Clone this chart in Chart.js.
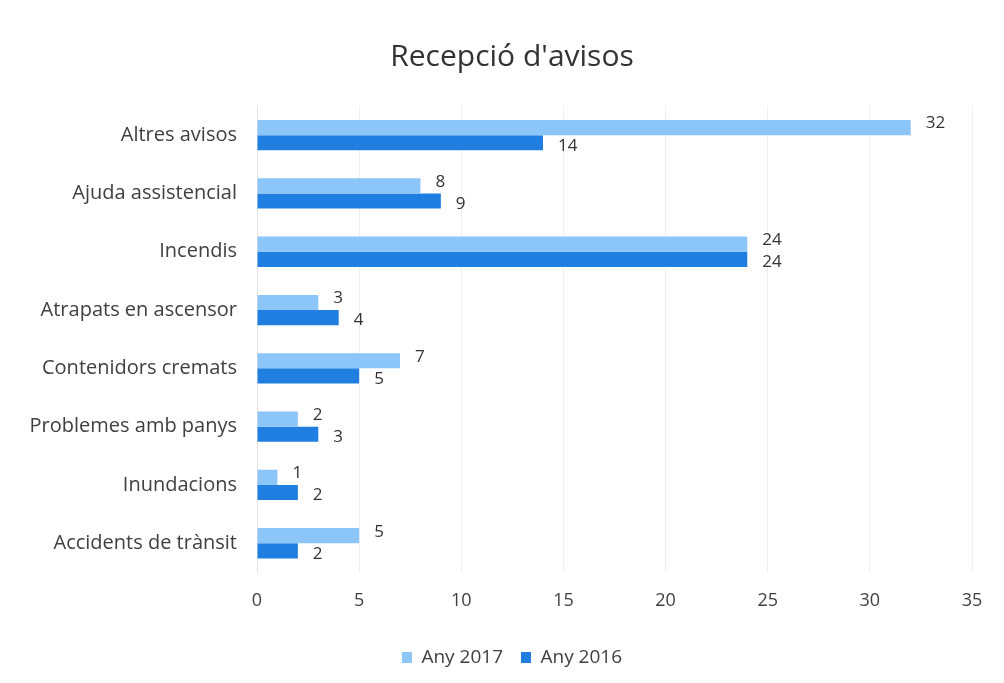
<!DOCTYPE html>
<html lang="ca">
<head>
    <meta charset="UTF-8">
    <title>Recepció d'avisos</title>
    <script src="https://cdn.jsdelivr.net/npm/chart.js"></script>
    <style>
        html, body { margin: 0; padding: 0; background: #fff; }
        #wrap { width: 1004px; height: 683px; }
    </style>
</head>
<body>
    <div id="wrap"><canvas id="avisosChart" width="1004" height="683"></canvas></div>

    <script>
        const categories = ['Altres avisos', 'Ajuda assistencial', 'Incendis', 'Atrapats en ascensor',
            'Contenidors cremats', 'Problemes amb panys', 'Inundacions', 'Accidents de trànsit'];
        const any2017 = [32, 8, 24, 3, 7, 2, 1, 5];
        const any2016 = [14, 9, 24, 4, 5, 3, 2, 2];
        const xTicks = [0, 5, 10, 15, 20, 25, 30, 35];

        const fontFamily = '"Open Sans", Lato, sans-serif';

        // value labels next to the end of each bar
        const barLabels = {
            id: 'barLabels',
            afterDatasetsDraw(chart) {
                const ctx = chart.ctx;
                ctx.save();
                ctx.font = '17px ' + fontFamily;
                ctx.fillStyle = '#333333';
                ctx.textAlign = 'left';
                ctx.textBaseline = 'middle';
                chart.data.datasets.forEach((ds, i) => {
                    chart.getDatasetMeta(i).data.forEach((bar, j) => {
                        const dy = i === 0 ? -4 : 3;
                        ctx.fillText(ds.data[j], bar.x + 15, bar.y + dy);
                    });
                });
                ctx.restore();
            }
        };

        const ctx = document.getElementById('avisosChart').getContext('2d');
        new Chart(ctx, {
            type: 'bar',
            data: {
                labels: categories,
                datasets: [
                    { label: 'Any 2017', data: any2017, backgroundColor: '#8cc5f7' },
                    { label: 'Any 2016', data: any2016, backgroundColor: '#1f7ee0' }
                ]
            },
            options: {
                indexAxis: 'y',
                responsive: false,
                animation: false,
                categoryPercentage: 0.52,
                barPercentage: 1,
                layout: { padding: { left: 20, right: 0, top: 12, bottom: 6 } },
                scales: {
                    x: {
                        min: 0,
                        max: 35,
                        afterBuildTicks: s => { s.ticks = xTicks.map(v => ({ value: v })); },
                        grid: { color: '#efefef', drawTicks: false },
                        border: { display: false },
                        ticks: { color: '#404040', padding: 18, font: { size: 18, family: fontFamily } }
                    },
                    y: {
                        afterFit: s => { s.width = 237; },
                        grid: { display: false },
                        border: { color: '#e4e4e4' },
                        ticks: { color: '#404040', padding: 12, font: { size: 20, family: fontFamily } }
                    },
                    // empty right axis, keeps the plot narrower than the title and legend
                    yRight: {
                        position: 'right',
                        type: 'linear',
                        afterFit: s => { s.width = 32; },
                        grid: { display: false },
                        border: { display: false },
                        ticks: { display: false }
                    }
                },
                plugins: {
                    title: {
                        display: true,
                        text: "Recepció d'avisos",
                        color: '#333333',
                        font: { size: 30, weight: 'normal', family: fontFamily },
                        padding: { top: 27, bottom: 31 }
                    },
                    legend: {
                        position: 'bottom',
                        labels: {
                            color: '#404040',
                            boxWidth: 10,
                            boxHeight: 11,
                            padding: 18,
                            font: { size: 19, family: fontFamily }
                        }
                    },
                    tooltip: { enabled: false }
                }
            },
            plugins: [barLabels]
        });
    </script>
</body>
</html>
